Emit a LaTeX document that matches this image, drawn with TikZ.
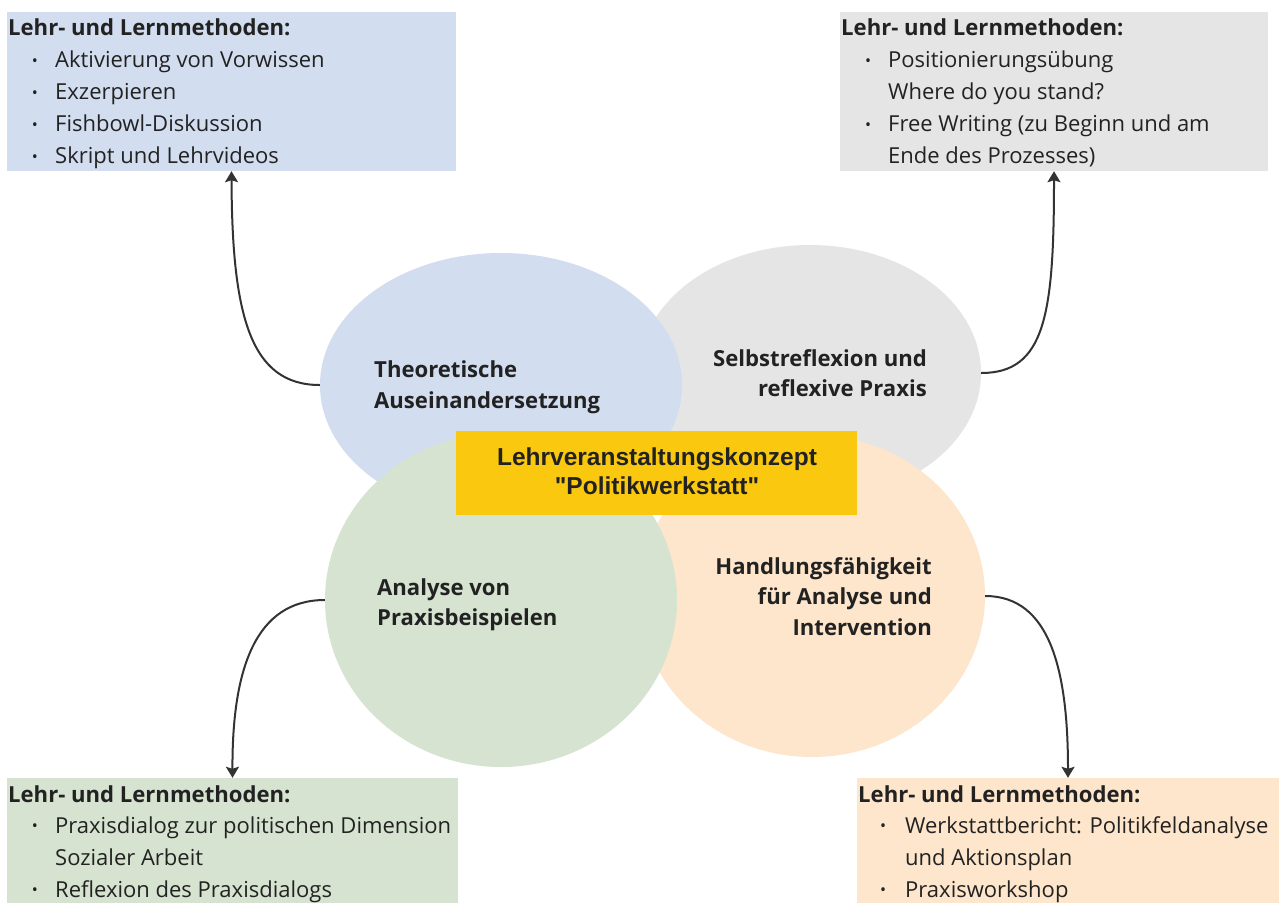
\documentclass[tikz,border=0pt]{standalone}
\usepackage{fontspec}
\setmainfont{Open Sans}
\newfontfamily\arialfont{Liberation Sans}
\usetikzlibrary{arrows.meta,shapes.geometric}
\definecolor{cblue}{HTML}{D2DDEF}
\definecolor{cgray}{HTML}{E5E5E5}
\definecolor{cgreen}{HTML}{D6E3D0}
\definecolor{corange}{HTML}{FDE6CB}
\definecolor{cyellow}{HTML}{F9C80F}
\definecolor{textc}{HTML}{222222}
\definecolor{linec}{HTML}{333333}
\begin{document}
\begin{tikzpicture}[x=1pt,y=-1pt,
  box/.style={rectangle,inner sep=0pt,draw=none},
  blob/.style={ellipse,inner sep=0pt,draw=none},
  hd/.style={anchor=base west,inner sep=0pt,text=textc,font=\fontsize{22.1}{27}\bfseries\selectfont},
  li/.style={anchor=base west,inner sep=0pt,text=textc,font=\fontsize{22}{27}\selectfont},
  bul/.style={anchor=center,inner sep=0pt,text=textc,font=\fontsize{16}{18}\selectfont},
  lbl/.style={inner sep=0pt,text=textc,font=\fontsize{22.1}{27}\bfseries\selectfont},
  conn/.style={draw=linec,line width=2pt,-{Stealth[length=11pt,width=13pt,inset=2pt]}}
]
\useasboundingbox (0,0) rectangle (1279,903);
\fill[white] (0,0) rectangle (1279,903);

% ellipses
\node[blob,fill=cgray,minimum width=342pt,minimum height=256pt] (gray) at (810,373) {};
\node[blob,fill=cblue,minimum width=362pt,minimum height=264pt] (blue) at (501,385) {};
\node[blob,fill=corange,minimum width=346pt,minimum height=322pt] (orange) at (812,596) {};
\node[blob,fill=cgreen,minimum width=352pt,minimum height=334pt] (green) at (501,600) {};

% centre box
\node[box,fill=cyellow,minimum width=401pt,minimum height=84pt] (center) at (656.5,473) {};
\node[anchor=base,inner sep=0pt,text=textc,font=\arialfont\fontsize{24.5}{27}\bfseries\selectfont] (c1) at (657,465.7) {Lehrveranstaltungskonzept};
\node[anchor=base,inner sep=0pt,text=textc,font=\arialfont\fontsize{24.5}{27}\bfseries\selectfont] (c2) at (657,494) {"Politikwerkstatt"};

% ellipse labels
\node[lbl,anchor=base west] (b1) at (374,377.7) {Theoretische};
\node[lbl,anchor=base west] (b2) at (374,408) {Auseinandersetzung};
\node[lbl,anchor=base east] (g1) at (927,366.7) {Selbstreflexion und};
\node[lbl,anchor=base east] (g2) at (927,396.7) {reflexive Praxis};
\node[lbl,anchor=base west] (gr1) at (377,595.7) {Analyse von};
\node[lbl,anchor=base west] (gr2) at (377,625) {Praxisbeispielen};
\node[lbl,anchor=base east] (o1) at (932,574) {Handlungsfähigkeit};
\node[lbl,anchor=base east] (o2) at (932,604.3) {für Analyse und};
\node[lbl,anchor=base east] (o3) at (932,635.7) {Intervention};

% method boxes
\node[box,fill=cblue,minimum width=449pt,minimum height=159pt] (tl) at (231.5,91.5) {};
\node[box,fill=cgray,minimum width=428pt,minimum height=159pt] (tr) at (1054,91.5) {};
\node[box,fill=cgreen,minimum width=451pt,minimum height=125pt] (bl) at (232.5,840.5) {};
\node[box,fill=corange,minimum width=422pt,minimum height=125pt] (br) at (1068,840.5) {};

% top-left text
\node[hd] (tlh) at (8,35.5) {Lehr- und Lernmethoden:};
\node[bul] (tlb1) at (35,62.3) {•};
\node[li] (tl1) at (55,67.7) {Aktivierung von Vorwissen};
\node[bul] (tlb2) at (35,94.3) {•};
\node[li] (tl2) at (55,99.5) {Exzerpieren};
\node[bul] (tlb3) at (35,126.3) {•};
\node[li] (tl3) at (55,131.5) {Fishbowl-Diskussion};
\node[bul] (tlb4) at (35,158.3) {•};
\node[li] (tl4) at (55,163.5) {Skript und Lehrvideos};

% top-right text
\node[hd] (trh) at (841,35.5) {Lehr- und Lernmethoden:};
\node[bul] (trb1) at (868,62.3) {•};
\node[li] (tr1) at (888,67.7) {Positionierungsübung};
\node[li] (tr2) at (888,99.5) {Where do you stand?};
\node[bul] (trb2) at (868,126.3) {•};
\node[li] (tr3) at (888,131.5) {Free Writing (zu Beginn und am};
\node[li] (tr4) at (888,163.5) {Ende des Prozesses)};

% bottom-left text
\node[hd] (blh) at (8,802) {Lehr- und Lernmethoden:};
\node[bul] (blb1) at (35,828) {•};
\node[li] (bl1) at (55,833.5) {Praxisdialog zur politischen Dimension};
\node[li] (bl2) at (55,865.5) {Sozialer Arbeit};
\node[bul] (blb2) at (35,892) {•};
\node[li] (bl3) at (55,897.5) {Reflexion des Praxisdialogs};

% bottom-right text
\node[hd] (brh) at (858,802) {Lehr- und Lernmethoden:};
\node[bul] (brb1) at (883,828) {•};
\node[li] (br1) at (905,833.5) {Werkstattbericht: Politikfeldanalyse};
\node[li] (br2) at (905,865.5) {und Aktionsplan};
\node[bul] (brb2) at (883,892) {•};
\node[li] (br3) at (905,897.5) {Praxisworkshop};

% connectors
\draw[conn] (blue.west) .. controls (250,385) and (232,315) .. (tl.south);
\draw[conn] (gray.east) .. controls (1045,373) and (1054,315) .. (tr.south);
\draw[conn] (green.west) .. controls (255,600) and (232,670) .. (bl.north);
\draw[conn] (orange.east) .. controls (1050,596) and (1068,670) .. (br.north);
\end{tikzpicture}
\end{document}
